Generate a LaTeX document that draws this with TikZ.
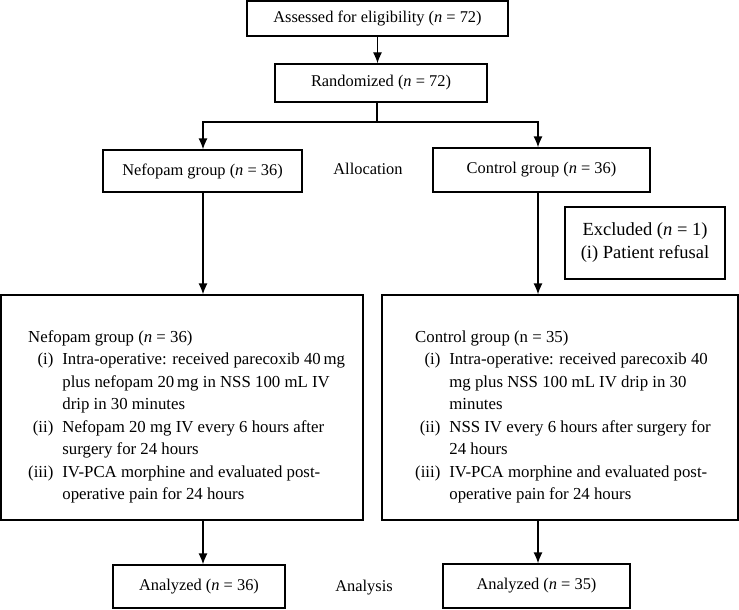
\documentclass[tikz,border=0pt]{standalone}
\usepackage{fontspec}
\setmainfont{Liberation Serif}
\usetikzlibrary{arrows.meta,positioning}

\tikzset{
  box/.style={draw, line width=1.3pt, inner sep=0pt, align=center},
  arr/.style={line width=1.3pt, -{Latex[length=11pt,width=9pt]}},
  link/.style={line width=1.3pt},
  bigtext/.style={anchor=west, inner sep=0pt, font=\fontsize{16.8}{22.5}\selectfont}
}

\begin{document}
\begin{tikzpicture}[x=1pt, y=-1pt, font=\fontsize{16.4}{22.5}\selectfont]
  \useasboundingbox (0,0) rectangle (739,610);

  % Enrollment
  \node[box, minimum width=261pt, minimum height=35pt] (assess) at (377.5,18.5) {Assessed for eligibility (\textit{n} = 72)};
  \node[box, minimum width=212pt, minimum height=38pt] (random) at (381,83) {Randomized (\textit{n} = 72)};

  % Allocation
  \node[box, minimum width=199pt, minimum height=42pt] (nefo) at (202.5,171) {Nefopam group (\textit{n} = 36)};
  \node[box, minimum width=217pt, minimum height=44pt] (ctrl) at (541.5,170) {Control group (\textit{n} = 36)};
  \node (alloc) at (368,169) {Allocation};
  \node[box, minimum width=160pt, minimum height=72pt, font=\fontsize{18.5}{23}\selectfont] (excl) at (645,243) {Excluded (\textit{n} = 1)\\(i) Patient refusal};

  % Intervention
  \node[box, minimum width=362pt, minimum height=225pt] (bigL) at (182,407.5) {};
  \node[box, minimum width=356pt, minimum height=225pt] (bigR) at (560,407.5) {};
  \node[bigtext] (txtL) at (28,416.5) {%
    \begin{tabular}{@{}r@{\hspace{9pt}}l@{}}
      \multicolumn{2}{@{}l}{Nefopam group (\textit{n} = 36)}\\
      (i) & Intra-operative: received parecoxib 40\,mg\\
          & plus nefopam 20\,mg in NSS 100 mL IV\\
          & drip in 30 minutes\\
      (ii) & Nefopam 20 mg IV every 6 hours after\\
           & surgery for 24 hours\\
      (iii) & IV-PCA morphine and evaluated post-\\
            & operative pain for 24 hours
    \end{tabular}};
  \node[bigtext] (txtR) at (415,416.5) {%
    \begin{tabular}{@{}r@{\hspace{9pt}}l@{}}
      \multicolumn{2}{@{}l}{Control group (n = 35)}\\
      (i) & Intra-operative: received parecoxib 40\\
          & mg plus NSS 100 mL IV drip in 30\\
          & minutes\\
      (ii) & NSS IV every 6 hours after surgery for\\
           & 24 hours\\
      (iii) & IV-PCA morphine and evaluated post-\\
            & operative pain for 24 hours
    \end{tabular}};

  % Analysis
  \node[box, minimum width=172pt, minimum height=43pt] (anaL) at (199,586.5) {Analyzed (\textit{n} = 36)};
  \node[box, minimum width=187pt, minimum height=44pt] (anaR) at (536.5,586) {Analyzed (\textit{n} = 35)};
  \node (analysis) at (364,588) {Analysis};

  % Connectors
  \coordinate (split) at (377,122);
  \coordinate (lcol) at (203,0);
  \coordinate (rcol) at (538,0);
  \draw[arr] (assess.south) -- (assess.south |- random.north);
  \draw[link] (split |- random.south) -- (split);
  \draw[arr] (split) -| (lcol |- nefo.north);
  \draw[arr] (split) -| (rcol |- ctrl.north);
  \draw[arr] (lcol |- nefo.south) -- (lcol |- bigL.north);
  \draw[arr] (rcol |- ctrl.south) -- (rcol |- bigR.north);
  \draw[arr] (lcol |- bigL.south) -- (lcol |- anaL.north);
  \draw[arr] (rcol |- bigR.south) -- (rcol |- anaR.north);
\end{tikzpicture}
\end{document}
